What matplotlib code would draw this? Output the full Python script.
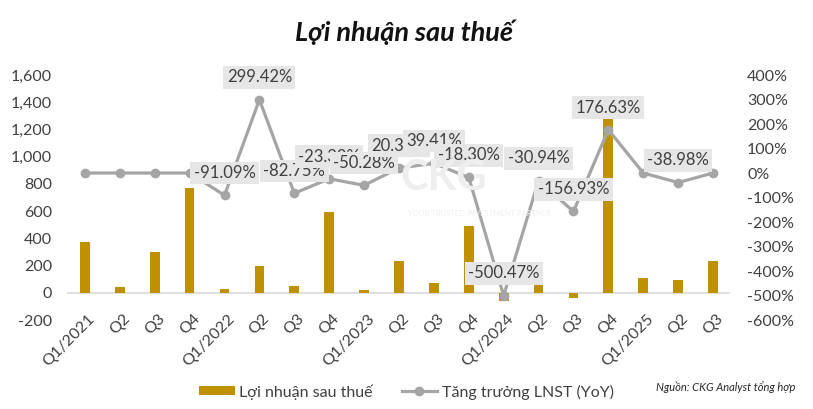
import numpy as np
import matplotlib.pyplot as plt
from matplotlib.transforms import ScaledTranslation
from matplotlib.ticker import FuncFormatter

plt.rcParams['font.family'] = ['Lato', 'DejaVu Sans']

quy = ['Q1/2021', 'Q2', 'Q3', 'Q4',
       'Q1/2022', 'Q2', 'Q3', 'Q4',
       'Q1/2023', 'Q2', 'Q3', 'Q4',
       'Q1/2024', 'Q2', 'Q3', 'Q4',
       'Q1/2025', 'Q2', 'Q3']

# loi nhuan sau thue (ty dong)
lnst = [370, 45, 300, 770,
        30, 195, 52, 590,
        20, 236, 71, 489,
        -61, 54, -37, 1280,
        110, 96, 234]

# tang truong LNST YoY (%)
tang_truong = [0, 0, 0, 0,
               -91.09, 299.42, -82.75, -23.38,
               -50.28, 20.34, 39.41, -18.30,
               -500.47, -30.94, -156.93, 176.63,
               0, -38.98, 0]
nhan = ['', '', '', '',
        '-91.09%', '299.42%', '-82.75%', '-23.38%',
        '-50.28%', '20.34%', '39.41%', '-18.30%',
        '-500.47%', '-30.94%', '-156.93%', '176.63%',
        '', '-38.98%', '']

x = np.arange(len(quy))

fig = plt.figure(figsize=(8.13, 4.09), dpi=100)
ax = fig.add_axes([0.083, 0.2176, 0.8155, 0.599])
ax2 = ax.twinx()

ax.bar(x, lnst, width=0.28, color='#BF9000', zorder=2, label='Lợi nhuận sau thuế')
ax.axhline(0, color='#d9d9d9', lw=1.2, zorder=1)
ax.set_ylim(-200, 1600)
ax.set_yticks(np.arange(-200, 1601, 200))
ax.yaxis.set_major_formatter(FuncFormatter(lambda v, p: f'{v:,.0f}'))
ax.set_xlim(-0.5, len(quy) - 0.5)
ax.set_xticks(x)
ax.set_xticklabels(quy)

ax2.plot(x, tang_truong, color='#A5A5A5', lw=2.3, marker='o', ms=6,
         zorder=3, label='Tăng trưởng LNST (YoY)')
ax2.set_ylim(-600, 400)
ax2.set_yticks(np.arange(-600, 401, 100))
ax2.yaxis.set_major_formatter(FuncFormatter(lambda v, p: f'{v:.0f}%'))

for a in (ax, ax2):
    for s in a.spines.values():
        s.set_visible(False)
    a.tick_params(length=0, labelsize=11.5, colors='#404040')
ax.tick_params(axis='y', pad=11)
ax2.tick_params(axis='y', pad=12)
ax.tick_params(axis='x', pad=-6)

off = ScaledTranslation(3 / 100, 0, fig.dpi_scale_trans)
for lb in ax.get_xticklabels():
    lb.set_rotation(45)
    lb.set_ha('right')
    lb.set_va('top')
    lb.set_rotation_mode('anchor')
    lb.set_transform(lb.get_transform() + off)

# nhan du lieu
for i in range(len(x)):
    if nhan[i]:
        ax2.annotate(nhan[i], (x[i], tang_truong[i]), xytext=(0, 16),
                     textcoords='offset points', ha='center', va='center',
                     fontsize=12, color='#404040', zorder=5,
                     bbox=dict(boxstyle='square,pad=0.2', fc='#E7E6E6', ec='none'))

# watermark
fig.text(0.545, 0.565, 'CKG', fontsize=30, fontweight='bold', color='#eeeeee',
         ha='center', va='center', zorder=0)
fig.text(0.59, 0.478, 'YOUR TRUSTED INVESTMENT PARTNER', fontsize=5.5,
         color='#f0f0f0', ha='center', va='center', zorder=0)

fig.text(0.497, 0.922, 'Lợi nhuận sau thuế', fontsize=19.5, fontweight='bold',
         style='italic', ha='center', va='center', color='#111111')

h1, l1 = ax.get_legend_handles_labels()
h2, l2 = ax2.get_legend_handles_labels()
fig.legend(h1 + h2, l1 + l2, loc='center', bbox_to_anchor=(0.5, 0.042),
           ncol=2, frameon=False, fontsize=11.5, handlelength=2.2,
           handleheight=0.5, handletextpad=0.3, columnspacing=1.8,
           labelcolor='#404040')

fig.text(0.807, 0.054, 'Nguồn: CKG Analyst tổng hợp', fontsize=8,
         style='italic', ha='left', va='center', color='#262626')

fig.savefig('out.png', dpi=100)
